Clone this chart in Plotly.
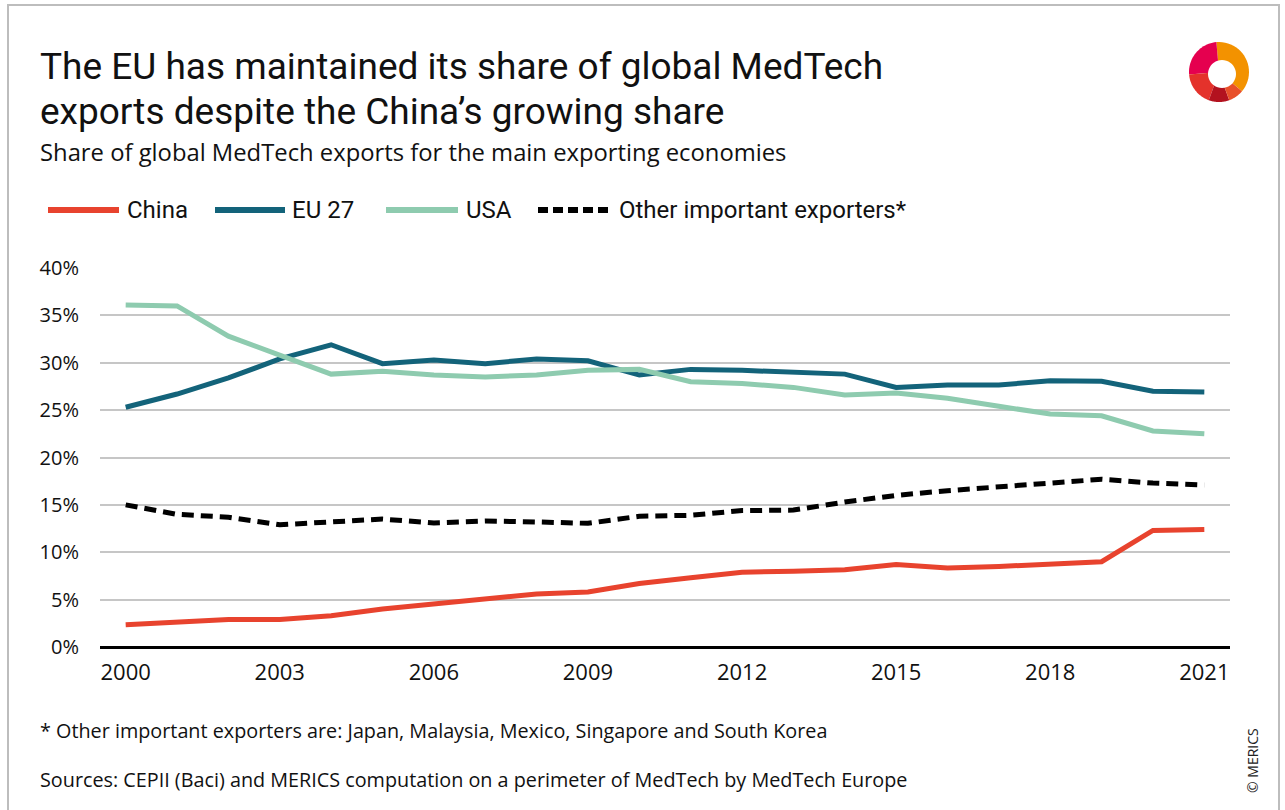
import math

import plotly.graph_objects as go

# --- data (share of global MedTech exports, %) ---
YEARS = [2000, 2001, 2002, 2003, 2004, 2005, 2006, 2007, 2008, 2009, 2010,
         2011, 2012, 2013, 2014, 2015, 2016, 2017, 2018, 2019, 2020, 2021]
CHINA = [2.35, 2.6, 2.9, 2.9, 3.3, 4.0, 4.5, 5.1, 5.6, 5.8, 6.7,
         7.3, 7.9, 8.0, 8.15, 8.7, 8.35, 8.5, 8.8, 9.0, 12.3, 12.4]
EU27 = [25.3, 26.7, 28.4, 30.4, 31.9, 29.9, 30.3, 29.9, 30.4, 30.2, 28.7,
        29.3, 29.2, 29.0, 28.8, 27.4, 27.65, 27.65, 28.1, 28.05, 27.0, 26.9]
USA = [36.1, 36.0, 32.8, 30.8, 28.8, 29.1, 28.7, 28.5, 28.7, 29.2, 29.3,
       28.0, 27.8, 27.4, 26.6, 26.8, 26.25, 25.4, 24.6, 24.4, 22.8, 22.5]
OTHER = [15.0, 14.0, 13.7, 12.9, 13.2, 13.5, 13.1, 13.3, 13.2, 13.05, 13.8,
         13.9, 14.4, 14.45, 15.3, 16.0, 16.5, 16.95, 17.3, 17.7, 17.3, 17.1]
X_TICKS = [2000, 2003, 2006, 2009, 2012, 2015, 2018, 2021]

SERIES = [
    ("China", CHINA, "#E8432E", "solid"),
    ("EU 27", EU27, "#13637A", "solid"),
    ("USA", USA, "#8ECBAF", "solid"),
    ("Other important exporters*", OTHER, "#000000", "12px,7px"),
]

TITLE_1 = "The EU has maintained its share of global MedTech"
TITLE_2 = "exports despite the China’s growing share"
SUBTITLE = "Share of global MedTech exports for the main exporting economies"
NOTE = "* Other important exporters are: Japan, Malaysia, Mexico, Singapore and South Korea"
SOURCE = "Sources: CEPII (Baci) and MERICS computation on a perimeter of MedTech by MedTech Europe"

# --- page geometry (pixels) ---
W, H = 1285, 810
ML, MR, MT, MB = 100, 55, 268, 163
FONT = "Open Sans"
TITLE_FONT = "Roboto"
LEGEND_FONT = "Liberation Sans Narrow, Roboto"


def px(x):
    return (x - ML) / (W - ML - MR)


def py(y):
    return (H - MB - y) / (H - MT - MB)


fig = go.Figure()
for name, vals, color, dash in SERIES:
    fig.add_trace(go.Scatter(
        x=YEARS, y=vals, mode="lines", name=name,
        line=dict(color=color, width=5, dash=dash),
        showlegend=False,
    ))

# hand-drawn legend (long line samples like the original)
legend_items = [(48, 119, 125), (215, 285, 290), (386, 458, 464), (538, 612, 617)]
for (x0, x1, tx), (name, _, color, dash) in zip(legend_items, SERIES):
    fig.add_shape(type="line", xref="paper", yref="paper",
                  x0=px(x0), x1=px(x1), y0=py(210), y1=py(210),
                  line=dict(color=color, width=6, dash="10px,5px" if dash != "solid" else "solid"))
    fig.add_annotation(text=name, xref="paper", yref="paper", x=px(tx), y=py(210),
                       xanchor="left", yanchor="middle", showarrow=False,
                       font=dict(family=LEGEND_FONT, size=24, color="#111"))

# titles and notes
texts = [
    (TITLE_1, 66, TITLE_FONT, 37, "#111"),
    (TITLE_2, 111, TITLE_FONT, 37, "#111"),
    (SUBTITLE, 152, FONT, 23.8, "#111"),
    (NOTE, 730, FONT, 19.8, "#111"),
    (SOURCE, 779, FONT, 19.8, "#111"),
]
for text, yc, fam, size, col in texts:
    fig.add_annotation(text=text, xref="paper", yref="paper", x=px(38), y=py(yc),
                       xanchor="left", yanchor="middle", showarrow=False,
                       font=dict(family=fam, size=size, color=col))

fig.add_annotation(text="© MERICS", xref="paper", yref="paper", x=px(1252), y=py(761),
                   xanchor="center", yanchor="middle", textangle=-90, showarrow=False,
                   font=dict(family=FONT, size=14, color="#222"))

# outer frame
fig.add_shape(type="rect", xref="paper", yref="paper", layer="below",
              x0=px(8), x1=px(1279), y0=py(815), y1=py(5),
              line=dict(color="#BDBDBD", width=2))


# logo: ring made of coloured wedges with a white hole
def wedge(cx, cy, r, a0, a1, n=24):
    pts = [(cx, cy)]
    for i in range(n + 1):
        a = math.radians(a0 + (a1 - a0) * i / n)
        pts.append((cx + r * math.cos(a), cy - r * math.sin(a)))
    return "M " + " L ".join(f"{px(x):.5f},{py(y):.5f}" for x, y in pts) + " Z"


LOGO = [(-40, 95, "#F39200"), (95, 185, "#E5004F"), (185, 250, "#E4322B"),
        (250, 290, "#B3121F"), (290, 320, "#E8502A")]
for a0, a1, col in LOGO:
    fig.add_shape(type="path", xref="paper", yref="paper", path=wedge(1219, 72, 30, a0, a1),
                  fillcolor=col, line=dict(width=0))
fig.add_shape(type="path", xref="paper", yref="paper", path=wedge(1222, 74, 14, 0, 360, 40),
              fillcolor="white", line=dict(width=0))

fig.update_layout(
    width=W, height=H,
    margin=dict(l=ML, r=MR, t=MT, b=MB),
    paper_bgcolor="white", plot_bgcolor="white",
    font=dict(family=FONT, size=20, color="#111"),
    xaxis=dict(range=[1999.5, 2021.5], tickvals=X_TICKS, showgrid=False,
               zeroline=False, showline=False, ticks="outside", ticklen=6,
               tickcolor="rgba(0,0,0,0)", tickfont=dict(size=22)),
    yaxis=dict(range=[0, 40], dtick=5, ticksuffix="%", showgrid=True,
               gridcolor="#C6C6C6", gridwidth=1.5, zeroline=True,
               zerolinecolor="#000", zerolinewidth=2.5, showline=False,
               ticks="outside", ticklen=16, tickcolor="rgba(0,0,0,0)",
               tickfont=dict(size=20)),
)

fig.write_html("out.html", config={"displayModeBar": False},
               post_script="document.body.style.margin='0';")
